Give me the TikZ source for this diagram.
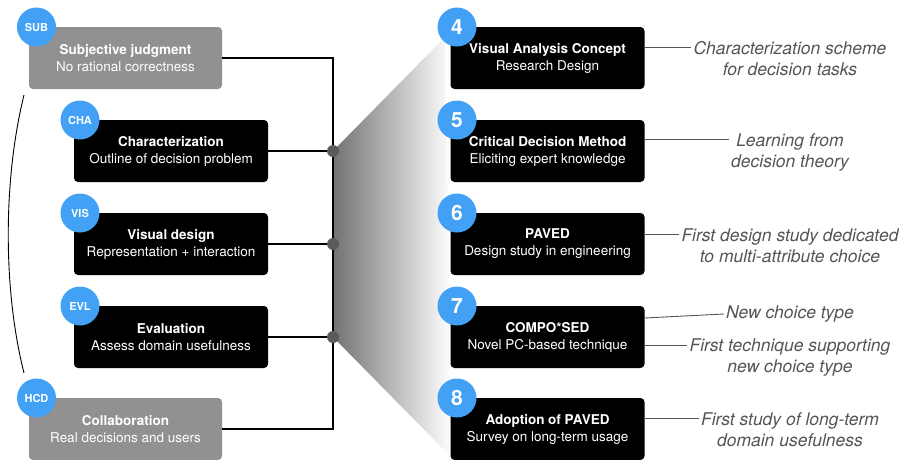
\documentclass[tikz,border=0pt]{standalone}
\usepackage{fontspec}
\setmainfont{TeX Gyre Heros}
\usetikzlibrary{calc}
\definecolor{cblue}{RGB}{66,161,245}
\definecolor{boxgray}{RGB}{145,145,145}
\definecolor{dotgray}{RGB}{90,90,90}
\definecolor{anngray}{RGB}{85,85,85}
\tikzset{
 base/.style={rounded corners=4pt, minimum height=62pt, align=center, text=white, inner sep=0pt, font=\fontsize{13.5}{17}\selectfont},
 blackbox/.style={base, fill=black, minimum width=194pt},
 graybox/.style={base, fill=boxgray, minimum width=193pt},
 badge/.style={circle, fill=cblue, text=white, minimum size=39pt, inner sep=0pt, font=\fontsize{11}{11}\selectfont\bfseries},
 numbadge/.style={badge, font=\fontsize{21}{21}\selectfont\bfseries},
 ann/.style={align=center, text=anngray, inner sep=2pt, font=\fontsize{17.5}{21}\selectfont\itshape},
 annline/.style={draw=anngray, line width=0.9pt},
 bracket/.style={draw=black, line width=2pt},
 joint/.style={circle, fill=dotgray, minimum size=12pt, inner sep=0pt},
 arcline/.style={draw=black, line width=0.9pt},
}
\begin{document}
\begin{tikzpicture}[x=1pt,y=-1pt]
\clip (0,0) rectangle (904,459);
\useasboundingbox (0,0) rectangle (904,459);
% coordinates
\coordinate (j1) at (333,151);
\coordinate (j2) at (333,244);
\coordinate (j3) at (333,337);
\coordinate (tr) at (333,58);
\coordinate (br) at (333,429);
\coordinate (g1) at (445,37);
\coordinate (g2) at (452,458);
% gradient
\shade[left color=black!55, right color=white] (j1) -- (g1) -- (g2) -- (j3) -- cycle;
% left boxes
\node[graybox] (sub) at (125.5,58) {\textbf{Subjective judgment}\\No rational correctness};
\node[blackbox] (cha) at (171,151) {\textbf{Characterization}\\Outline of decision problem};
\node[blackbox] (vis) at (171,244) {\textbf{Visual design}\\Representation + interaction};
\node[blackbox] (evl) at (171,337) {\textbf{Evaluation}\\Assess domain usefulness};
\node[graybox] (hcd) at (125.5,429) {\textbf{Collaboration}\\Real decisions and users};
% bracket
\draw[bracket] (sub.east) -- (tr) -- (br) -- (hcd.east);
\draw[bracket] (cha.east) -- (j1);
\draw[bracket] (vis.east) -- (j2);
\draw[bracket] (evl.east) -- (j3);
\node[joint] (d1) at (j1) {};
\node[joint] (d2) at (j2) {};
\node[joint] (d3) at (j3) {};
% left arc
\coordinate (a1) at (24,95);
\coordinate (a2) at (24,373);
\draw[arcline] (a1) .. controls (3,180) and (3,290) .. (a2);
% badges left
\node[badge] (bsub) at (36.5,27) {SUB};
\node[badge] (bcha) at (80,120) {CHA};
\node[badge] (bvis) at (80,213) {VIS};
\node[badge] (bevl) at (80,306) {EVL};
\node[badge] (bhcd) at (36.5,398) {HCD};
% right boxes
\node[blackbox] (r4) at (547.5,58) {\textbf{Visual Analysis Concept}\\Research Design};
\node[blackbox] (r5) at (547.5,151) {\textbf{Critical Decision Method}\\Eliciting expert knowledge};
\node[blackbox] (r6) at (547.5,244) {\textbf{PAVED}\\Design study in engineering};
\node[blackbox] (r7) at (547.5,337) {\textbf{COMPO*SED}\\Novel PC-based technique};
\node[blackbox] (r8) at (547.5,429) {\textbf{Adoption of PAVED}\\Survey on long-term usage};
\node[numbadge] (b4) at (457,27) {4};
\node[numbadge] (b5) at (457,120) {5};
\node[numbadge] (b6) at (457,213) {6};
\node[numbadge] (b7) at (457,306) {7};
\node[numbadge] (b8) at (457,398) {8};
% annotations
\node[ann] (n4) at (790,58.5) {Characterization scheme\\for decision tasks};
\node[ann] (n5) at (790,152.5) {Learning from\\decision theory};
\node[ann] (n6) at (790,245.5) {First design study dedicated\\to multi-attribute choice};
\node[ann] (n7a) at (790,314) {New choice type};
\node[ann] (n7b) at (790,357.5) {First technique supporting\\new choice type};
\node[ann] (n8) at (790,429.5) {First study of long-term\\domain usefulness};
\coordinate (s4) at (644.5,47);
\coordinate (s5) at (644.5,139);
\coordinate (s6) at (644.5,234);
\coordinate (s7a) at (644.5,318);
\coordinate (s7b) at (644.5,345);
\coordinate (s8) at (644.5,418);
\draw[annline] (s4) -- (n4.west |- s4);
\draw[annline] (s5) -- (n5.west |- s5);
\draw[annline] (s6) -- (n6.west |- s6);
\draw[annline] (s7a) -- (n7a.west);
\draw[annline] (s7b) -- (n7b.west |- s7b);
\draw[annline] (s8) -- (n8.west |- s8);
\end{tikzpicture}
\end{document}
